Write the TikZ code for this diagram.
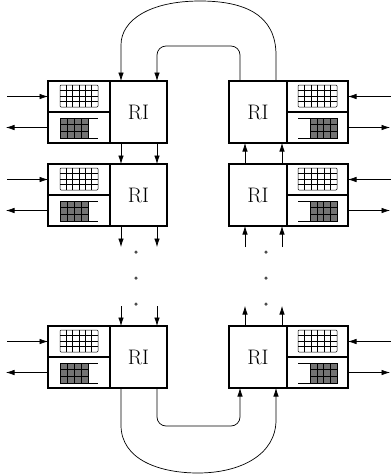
\documentclass[tikz,border=0pt]{standalone}
\usetikzlibrary{arrows.meta}
\tikzset{
  blk/.style={draw, line width=1.5pt, outer sep=0pt, inner sep=0pt, minimum height=62pt},
  rinode/.style={blk, font=\fontsize{21}{25}\selectfont},
  divl/.style={line width=1.5pt},
  gridl/.style={line width=0.5pt},
  qfill/.style={fill=black!55},
  arr/.style={-{Latex[length=8.5pt,width=5.5pt]}, line width=0.7pt},
  dotn/.style={circle, fill=black!70, inner sep=0pt, minimum size=3.5pt},
}
\newcommand{\upgrid}[2]{% left x, right x (relative)
  \draw[gridl, rounded corners=1pt] (#1,4) rectangle (#2,26);
  \foreach \i in {1,...,5} \draw[gridl] ({#1+\i*(#2-#1)/6},4) -- ({#1+\i*(#2-#1)/6},26);
  \foreach \j in {1,2,3} \draw[gridl] (#1,{4+\j*5.5}) -- (#2,{4+\j*5.5});
}
\newcommand{\lowfill}[2]{% filled part left x, right x
  \fill[qfill] (#1,37) rectangle (#2,57);
  \draw[gridl] (#1,37) rectangle (#2,57);
  \foreach \i in {1,2,3} \draw[gridl] ({#1+\i*(#2-#1)/4},37) -- ({#1+\i*(#2-#1)/4},57);
  \foreach \j in {1,2} \draw[gridl] (#1,{37+\j*20/3}) -- (#2,{37+\j*20/3});
}
\newcommand{\leftblock}[2]{%
  \node[blk, minimum width=62pt, anchor=north west] (#1q) at (48,#2) {};
  \node[rinode, minimum width=57pt, anchor=north west] (#1r) at (110,#2) {RI};
  \draw[divl] (#1q.west) -- (#1q.east);
  \begin{scope}[shift={(#1q.north west)}]
    \upgrid{12}{50}
    \lowfill{12}{40}
    \draw[gridl] (40,37) -- (50,37) (40,57) -- (50,57);
  \end{scope}
}
\newcommand{\rightblock}[2]{%
  \node[rinode, minimum width=58pt, anchor=north west] (#1r) at (229,#2) {RI};
  \node[blk, minimum width=61pt, anchor=north west] (#1q) at (287,#2) {};
  \draw[divl] (#1q.west) -- (#1q.east);
  \begin{scope}[shift={(#1q.north west)}]
    \upgrid{11}{50}
    \lowfill{23}{50}
    \draw[gridl] (11,37) -- (23,37) (11,57) -- (23,57);
  \end{scope}
}
\begin{document}
\begin{tikzpicture}[x=1pt,y=-1pt]
\useasboundingbox (0,0) rectangle (391,475);

\leftblock{L1}{81}
\leftblock{L2}{164}
\leftblock{L3}{326}
\rightblock{R1}{81}
\rightblock{R2}{164}
\rightblock{R3}{326}

% side arrows
\foreach \b in {L1,L2,L3}{
  \coordinate (\b in) at ([xshift=-41pt,yshift=15.5pt]\b q.west);
  \coordinate (\b out) at ([xshift=-42pt,yshift=-15.5pt]\b q.west);
  \draw[arr] (\b in) -- ([yshift=15.5pt]\b q.west);
  \draw[arr] ([yshift=-15.5pt]\b q.west) -- (\b out);
}
\foreach \b in {R1,R2,R3}{
  \coordinate (\b in) at ([xshift=44pt,yshift=15.5pt]\b q.east);
  \coordinate (\b out) at ([xshift=42pt,yshift=-15.5pt]\b q.east);
  \draw[arr] (\b in) -- ([yshift=15.5pt]\b q.east);
  \draw[arr] ([yshift=-15.5pt]\b q.east) -- (\b out);
}

% vertical arrows, left column (downwards)
\foreach \s [count=\k] in {-17.5,18.5}{
  \draw[arr] ([xshift=\s pt]L1r.south) -- ([xshift=\s pt]L2r.north);
  \coordinate (La\k) at ([xshift=\s pt,yshift=-21pt]L2r.south);
  \coordinate (Lb\k) at ([xshift=\s pt,yshift=20pt]L3r.north);
  \draw[arr] ([xshift=\s pt]L2r.south) -- (La\k);
  \draw[arr] (Lb\k) -- ([xshift=\s pt]L3r.north);
}
% vertical arrows, right column (upwards)
\foreach \s [count=\k] in {-13,24}{
  \draw[arr] ([xshift=\s pt]R2r.north) -- ([xshift=\s pt]R1r.south);
  \coordinate (Ra\k) at ([xshift=\s pt,yshift=-21pt]R2r.south);
  \coordinate (Rb\k) at ([xshift=\s pt,yshift=20pt]R3r.north);
  \draw[arr] (Ra\k) -- ([xshift=\s pt]R2r.south);
  \draw[arr] ([xshift=\s pt]R3r.north) -- (Rb\k);
}

% dots
\foreach \y [count=\k] in {252,278,304}{
  \node[dotn] (dl\k) at (136,\y) {};
  \node[dotn] (dr\k) at (266,\y) {};
}

% top connectors
\draw[arr] ([xshift=18pt]R1r.north) -- (276,55)
  .. controls (276,15) and (245,1) .. (200,1)
  .. controls (150,1) and (121,20) .. (121,45)
  -- ([xshift=-17.5pt]L1r.north);
\draw[arr, rounded corners=9pt] ([xshift=-18pt]R1r.north) -- (240,46) -- (157,46)
  -- ([xshift=18.5pt]L1r.north);

% bottom connectors
\draw[arr] ([xshift=-17.5pt]L3r.south) -- (121,425)
  .. controls (121,460) and (160,473) .. (198,473)
  .. controls (240,473) and (276,455) .. (276,420)
  -- ([xshift=18pt]R3r.south);
\draw[arr, rounded corners=9pt] ([xshift=18.5pt]L3r.south) -- (157,426) -- (240,426)
  -- ([xshift=-18pt]R3r.south);
\end{tikzpicture}
\end{document}
